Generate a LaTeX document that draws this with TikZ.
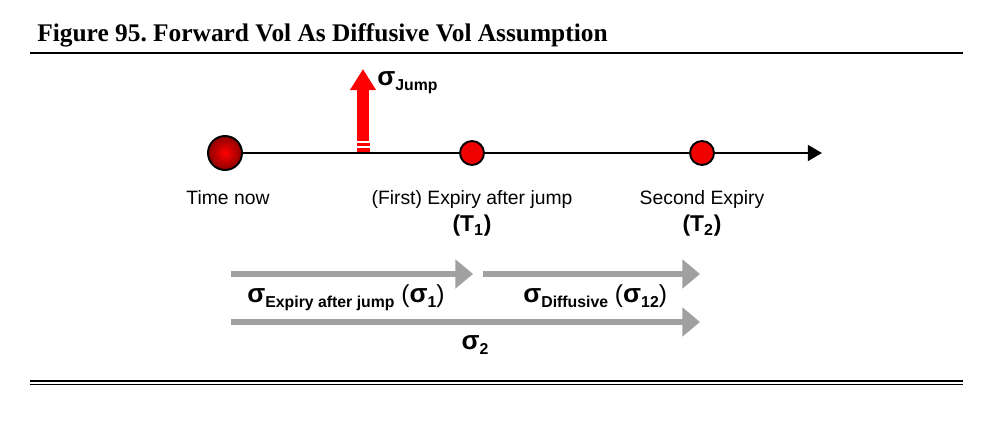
\documentclass[tikz,border=0pt]{standalone}
\usepackage{fontspec}
\setmainfont{Liberation Serif}
\newfontfamily\arialfont{Liberation Sans}
\usetikzlibrary{arrows.meta,calc,positioning}
\newcommand{\sg}[1]{{\fontsize{15}{17}\selectfont σ}\raisebox{-2.8pt}{\fontsize{9}{11}\selectfont #1}}
\definecolor{arrgray}{RGB}{160,160,160}
\definecolor{dotred}{RGB}{240,0,0}

\begin{document}
\begin{tikzpicture}[x=0.02cm,y=-0.02cm,font=\arialfont\fontsize{11}{13}\selectfont,
dot/.style={circle,draw,line width=1.1pt,fill=dotred,minimum size=0.48cm,inner sep=0},
grayarr/.style={draw=arrgray,line width=2.9pt,-{Triangle[length=10pt,width=16pt]}},
siglab/.style={anchor=base,font=\arialfont\bfseries\fontsize{14}{16}\selectfont},
tlab/.style={anchor=base,font=\arialfont\bfseries\fontsize{13}{15}\selectfont}]
\useasboundingbox(0,0)rectangle(997,428);
\node[anchor=base west,inner sep=0,font=\frenchspacing\bfseries\fontsize{14.45}{16}\selectfont](title)at(37,42){Figure 95. Forward Vol As Diffusive Vol Assumption};
\draw[line width=1.2pt](30,53)--(963,53);\draw[line width=1.1pt](30,381)--(963,381);\draw[line width=1.1pt](30,384.5)--(963,384.5);
\node[circle,draw,line width=1.1pt,shading=radial,inner color=red,outer color=red!55!black,minimum size=0.68cm,inner sep=0](now)at(225,153){};
\coordinate(end)at(822,153);\draw[line width=1.1pt,-{Triangle[length=8pt,width=9pt]}](now)--(end);
\node[dot](t1)at(472,153){};\node[dot](t2)at(702,153){};
\coordinate(jb)at(363,141);\coordinate(jt)at(363,69);\draw[red,line width=7pt,-{Triangle[length=12pt,width=14pt]}](jb)--(jt);
\fill[red](357,143)rectangle(370,146);\fill[red](357,148)rectangle(370,152);
\node[siglab,anchor=base west,inner sep=0](sj)at(377,86){\sg{Jump}};
\node[anchor=base](tn)at(228,205){Time now};\node[anchor=base](fe)at(472,205){(First) Expiry after jump};\node[anchor=base](se)at(702,205){Second Expiry};
\node[tlab](t1l)at(472,232){(T\textsubscript{1})};\node[tlab](t2l)at(702,232){(T\textsubscript{2})};
\coordinate(a1s)at(231,274);\coordinate(a1e)at(473,274);\coordinate(a2s)at(483,274);\coordinate(a2e)at(700,274);\coordinate(a3s)at(231,322);\coordinate(a3e)at(700,322);
\draw[grayarr](a1s)--(a1e);\draw[grayarr](a2s)--(a2e);\draw[grayarr](a3s)--(a3e);
\node[siglab,anchor=base west,inner sep=0](s1)at(247,303){\sg{Expiry after jump} {\mdseries(}\sg{1}{\mdseries)}};\node[siglab,anchor=base west,inner sep=0](s12)at(523,303){\sg{Diffusive} {\mdseries(}\sg{12}{\mdseries)}};\node[siglab](s2)at(475,350){\sg{2}};
\end{tikzpicture}
\end{document}
